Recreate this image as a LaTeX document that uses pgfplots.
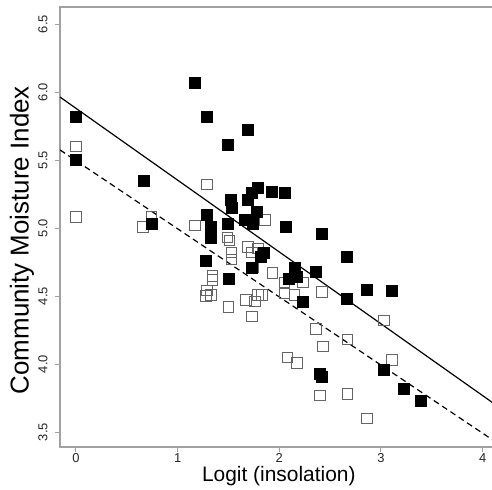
\documentclass[border=0pt]{standalone}
\usepackage{pgfplots}
\pgfplotsset{compat=1.18}
\usepackage{fontspec}
\setmainfont{Liberation Sans}
\usetikzlibrary{calc}
\definecolor{axgrey}{RGB}{160,160,160}
\definecolor{opengrey}{RGB}{100,100,100}
\begin{document}
\begin{tikzpicture}
\begin{axis}[
  at={(0,0)}, anchor=south west,
  scale only axis, width=443bp, height=440bp,
  xmin=-0.157, xmax=4.2, ymin=3.39, ymax=6.625,
  axis line style={axgrey, line width=1.3pt},
  tick style={axgrey, line width=1pt},
  tick align=outside, major tick length=5bp,
  xtick={0,1,2,3,4}, ytick={3.5,4.0,4.5,5.0,5.5,6.0,6.5},
  yticklabels={3.5,4.0,4.5,5.0,5.5,6.0,6.5},
  xtick pos=bottom, ytick pos=left,
  /pgf/number format/assume math mode=true,
  ticklabel style={font=\fontsize{13}{15}\selectfont, text=black!85},
  yticklabel style={rotate=90, anchor=south},
  yticklabel shift=4bp,
  xticklabel shift=-2bp,
  xlabel={Logit (insolation)},
  ylabel={Community Moisture Index},
  xlabel style={at={(axis description cs:0.494,0)}, anchor=center, yshift=-29bp, font=\fontsize{21}{24}\selectfont},
  ylabel style={at={(axis description cs:-0.0858,0.47)}, anchor=center, font=\fontsize{26}{28}\selectfont},
  clip=true,
]
% open squares
\addplot[only marks, mark=square, mark size=5.3bp, mark options={draw=opengrey, line width=0.8pt, fill=white}] coordinates {
(0.00,5.60)(0.00,5.08)(0.66,5.01)(0.74,5.08)(1.29,5.32)(1.17,5.02)
(1.49,4.93)(1.51,4.91)(1.53,4.82)(1.53,4.77)(1.34,4.65)(1.34,4.62)
(1.29,4.54)(1.33,4.51)(1.28,4.50)(1.50,4.42)(1.50,4.63)(1.67,4.47)(1.76,4.46)
(1.73,4.35)(1.69,4.86)(1.73,4.82)(1.74,4.71)(1.79,4.51)(1.86,5.06)
(1.79,4.85)(1.93,4.67)(2.05,4.60)(2.23,4.60)(2.05,4.52)(2.15,4.51)
(1.83,4.51)(2.42,4.53)(3.03,4.32)(2.36,4.26)(2.43,4.13)(2.67,4.18)
(2.08,4.05)(2.17,4.01)(3.11,4.03)(2.40,3.77)(2.67,3.78)(2.86,3.60)
};
% filled squares
\addplot[only marks, mark=square*, mark size=5.5bp, mark options={draw=black, fill=black}] coordinates {
(0.00,5.82)(0.00,5.50)(0.67,5.35)(0.74,5.03)(1.17,6.07)(1.29,5.82)
(1.49,5.61)(1.69,5.72)(1.29,5.10)(1.33,5.01)(1.33,4.93)(1.28,4.76)
(1.50,4.63)(1.49,5.03)(1.52,5.21)(1.53,5.15)(1.69,5.21)(1.73,5.26)
(1.79,5.30)(1.93,5.27)(2.05,5.26)(1.78,5.12)(1.66,5.06)(1.74,5.03)
(2.06,5.01)(2.42,4.96)(1.85,4.82)(1.82,4.79)(2.66,4.79)(1.73,4.71)
(2.15,4.71)(2.36,4.68)(2.09,4.63)(2.17,4.64)(2.23,4.46)(2.66,4.48)
(2.86,4.55)(3.11,4.54)(2.40,3.93)(2.42,3.91)(3.03,3.96)(3.22,3.82)
(3.39,3.73)
};
% regression lines
\addplot[black, line width=1.2pt] coordinates {(-0.157,5.963)(4.2,3.662)};
\addplot[black, line width=1.2pt, dash pattern=on 6bp off 4bp] coordinates {(-0.157,5.574)(4.2,3.391)};
\end{axis}
\pgfresetboundingbox
\path ($(current axis.south west)+(-60bp,-43bp)$) rectangle ++(492bp,490bp);
\end{tikzpicture}
\end{document}
